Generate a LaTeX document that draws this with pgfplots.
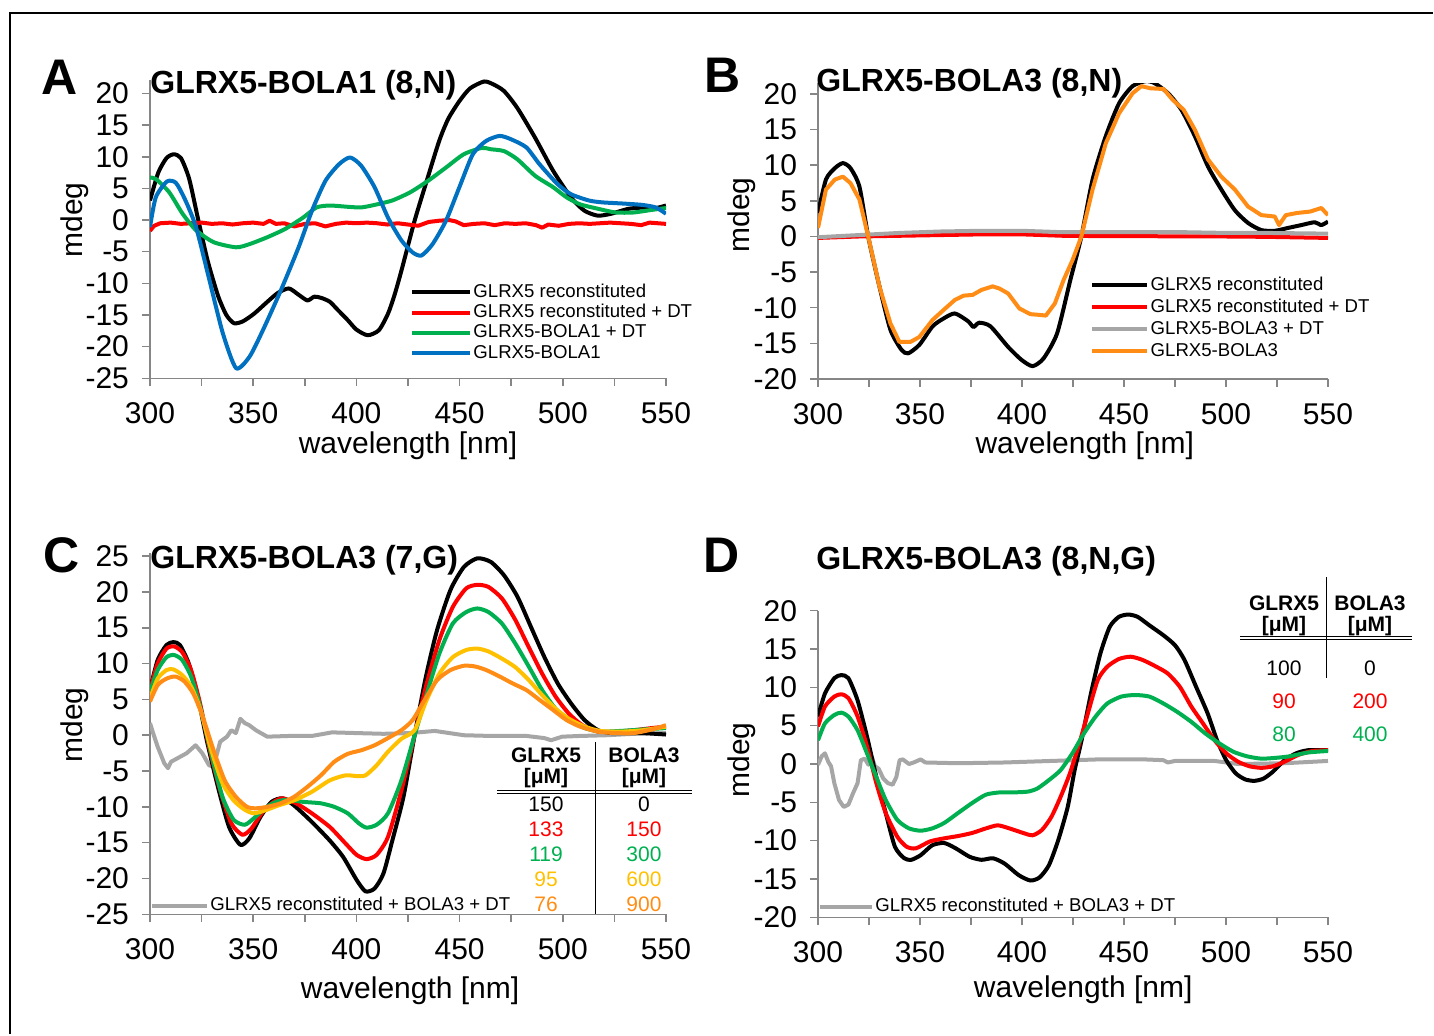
\documentclass[border=0pt]{standalone}
\usepackage{fontspec}
\setmainfont{Liberation Sans}
\usepackage{pgfplots}
\pgfplotsset{compat=1.18}
\definecolor{cred}{RGB}{255,0,0}
\definecolor{cgreen}{RGB}{0,176,80}
\definecolor{cblue}{RGB}{0,112,192}
\definecolor{corange}{RGB}{255,140,20}
\definecolor{cyellow}{RGB}{255,192,0}
\definecolor{cgray}{RGB}{166,166,166}
\definecolor{axgray}{RGB}{134,134,134}
\pgfplotsset{
  cd/.style={
    scale only axis, axis lines*=left, xmin=300, xmax=550,
    xtick={300,350,...,550}, minor xtick={325,375,...,525},
    tick align=outside, major tick length=4pt, minor tick length=4pt,
    tick style={axgray, line width=0.75pt},
    minor tick style={axgray, line width=0.75pt},
    axis line style={axgray, line width=0.75pt},
    tick label style={font=\fontsize{15}{18}\selectfont, text=black},
    /pgf/number format/assume math mode=true,
    xticklabel style={yshift=-4.5pt}, yticklabel style={xshift=-3pt},
    label style={font=\fontsize{15}{18}\selectfont},
    xlabel={wavelength [nm]}, ylabel={mdeg},
    every axis plot/.append style={line width=2pt, line join=round},
    legend cell align=left,
  },
  leg/.style={legend style={draw=none, fill=none, inner sep=0pt, row sep=0pt,
      font=\fontsize{9.3}{10}\selectfont,
      nodes={inner sep=0.5pt, text height=7pt, text depth=2.15pt}},
    legend image code/.code={\draw[##1, line width=2pt] (0pt,0pt) -- (#1,0pt);}},
}
\begin{document}
\begin{tikzpicture}
\path (0,0) rectangle (717pt,517pt);
\draw[line width=1pt] (5pt,0pt) -- (5pt,510.5pt) -- (716.5pt,510.5pt);

% ---------------- A
\begin{axis}[cd, at={(75pt,327.85pt)}, width=258pt, height=149.35pt,
  ymin=-25, ymax=22.2, ytick={-25,-20,...,20},
  xlabel style={at={(axis description cs:0.5,-0.2266)}, anchor=center},
  ylabel style={at={(axis description cs:-0.1453,0.53)}, anchor=center},
  leg=29pt, legend style={at={(axis description cs:0.504,0.3227)}, anchor=north west}]
\addplot[black, smooth, tension=0.4] coordinates {(300,3.1)(304,7.5)(308,9.8)(311.5,10.4)(315,9.8)(319,6.5)(323.4,0)(328,-6.5)(333,-12)(337,-15)(340.7,-16.3)(345,-16)(350.4,-14.8)(356.9,-12.9)(362,-11.5)(367.3,-10.8)(372,-11.8)(376.3,-12.7)(379.6,-12.1)(383,-12.3)(387.1,-12.9)(391,-14.2)(395.8,-15.8)(400,-17.3)(405.5,-18.2)(410.9,-17.4)(415.3,-14.8)(418.5,-11.8)(421.8,-8.0)(428.2,-0.1)(433.6,5.7)(440.1,12.5)(444.5,16)(449.9,18.8)(455,20.8)(461.8,21.9)(466,21.5)(471.5,20.4)(478,17.7)(486.6,13)(495.3,7.8)(503.9,3.6)(510.4,1.5)(516.9,0.7)(523.4,1.0)(532.1,1.8)(540.7,2.0)(545,1.9)(550,2.3)};
\addlegendentry{GLRX5 reconstituted}
\addplot[cred] coordinates {(300,-1.7)(302,-0.9)(305,-0.5)(310,-0.4)(315,-0.6)(320,-0.5)(325,-0.4)(330,-0.6)(335,-0.5)(340,-0.7)(345,-0.5)(350,-0.4)(355,-0.6)(358,-0.1)(361,-0.6)(365,-0.5)(370,-1.0)(375,-0.6)(380,-0.5)(385,-1.0)(390,-0.6)(395,-0.4)(400,-0.5)(405,-0.4)(410,-0.5)(415,-0.7)(420,-0.5)(425,-0.7)(430,-0.9)(435,-0.3)(440,-0.1)(445,0.0)(448,-0.2)(452,-0.8)(457,-0.6)(462,-0.5)(467,-0.8)(472,-0.5)(477,-0.6)(482,-0.5)(487,-0.8)(490,-1.2)(493,-0.7)(498,-0.9)(503,-0.6)(508,-0.5)(513,-0.6)(518,-0.5)(523,-0.4)(528,-0.5)(533,-0.6)(538,-0.8)(542,-0.4)(546,-0.5)(550,-0.6)};
\addlegendentry{GLRX5 reconstituted + DT}
\addplot[cgreen, smooth, tension=0.4] coordinates {(300,6.7)(302.8,6.5)(309.3,4.4)(315.8,1.0)(322.3,-1.6)(330.9,-3.5)(341.7,-4.3)(348.2,-3.8)(356.9,-2.7)(365.5,-1.4)(374.2,0.4)(380.7,2.0)(387.1,2.3)(395.8,2.1)(402.3,2.0)(408.8,2.4)(417.4,3.1)(426.1,4.4)(434.7,6.2)(443.4,8.3)(452,10.4)(460.7,11.4)(465,11.2)(471.5,10.9)(478,9.6)(486.6,7.0)(495.3,5.2)(501.8,3.6)(508.3,2.5)(516.9,1.8)(525.6,1.2)(534.2,1.2)(542.9,1.6)(550,1.9)};
\addlegendentry{GLRX5-BOLA1 + DT}
\addplot[cblue, smooth, tension=0.4] coordinates {(300,-1.1)(302.8,3.6)(308.2,6.1)(312.5,5.9)(316.9,3.3)(322.3,-1.1)(328.8,-9.5)(335.3,-17.9)(341.7,-23.4)(348.2,-21.6)(354.7,-17.4)(363.4,-11.1)(372,-4.3)(378.5,1.5)(385,6.2)(391.5,8.8)(396.9,9.9)(402.3,8.6)(408.8,5.2)(415.3,0.4)(421.8,-3.2)(427.2,-5.1)(431.5,-5.6)(436.9,-3.8)(443.4,-0.1)(449.9,5.2)(456.4,10.4)(462.8,12.5)(469.3,13.3)(474.7,12.8)(482.3,11.5)(488.8,8.8)(497.4,5.7)(503.9,4.1)(512.6,3.1)(519.1,2.8)(529.9,2.6)(538.5,2.4)(545,2.0)(550,1.0)};
\addlegendentry{GLRX5-BOLA1}
\end{axis}

% ---------------- B
\begin{axis}[cd, at={(409pt,327.5pt)}, width=255pt, height=147.85pt,
  ymin=-20, ymax=21.5, ytick={-20,-15,...,20},
  xlabel style={at={(axis description cs:0.523,-0.226)}, anchor=center},
  ylabel style={at={(axis description cs:-0.149,0.555)}, anchor=center},
  leg=27.5pt, legend style={at={(axis description cs:0.533,0.355)}, anchor=north west,
    nodes={inner sep=0.75pt, text height=7.3pt, text depth=2.2pt}}]
\addplot[black, smooth, tension=0.4] coordinates {(300,3.3)(303.9,8.0)(308.3,9.6)(312.2,10.3)(315.9,9.6)(320.3,7.0)(324.6,0)(330.1,-7.0)(335.5,-13.1)(340.9,-15.9)(344.2,-16.4)(349.7,-15.2)(356.2,-12.6)(361.6,-11.5)(367.1,-10.8)(373.6,-11.9)(376.2,-12.7)(379,-12.1)(384.5,-12.6)(393.2,-15.5)(399.7,-17.3)(405.2,-18.2)(410.6,-17.1)(417.2,-13.6)(423.7,-6.1)(429.1,0)(434.6,8.0)(441.1,14.1)(447.6,18.7)(454.2,21.1)(460.7,21.8)(465.1,21.5)(471.6,20.1)(478.1,17.8)(484.7,14.1)(491.2,9.8)(497.7,6.6)(504.3,3.7)(510.8,1.9)(517.3,0.9)(523.9,0.8)(530.4,1.2)(536.9,1.6)(543.5,2.0)(546.7,1.6)(550,2.1)};
\addlegendentry{GLRX5 reconstituted}
\addplot[cred] coordinates {(300,-0.2)(320,0)(340,0.1)(360,0.2)(380,0.3)(400,0.3)(420,0.1)(440,0.05)(460,0.05)(480,0)(500,0)(520,-0.05)(550,-0.2)};
\addlegendentry{GLRX5 reconstituted + DT}
\addplot[cgray] coordinates {(300,-0.1)(320,0.2)(340,0.5)(360,0.7)(380,0.8)(400,0.8)(420,0.6)(440,0.6)(460,0.6)(480,0.6)(500,0.5)(520,0.5)(550,0.4)};
\addlegendentry{GLRX5-BOLA3 + DT}
\addplot[corange] coordinates {(300,1.2)(303.9,6.6)(308.3,8.0)(312.2,8.4)(315.9,7.5)(320.3,5.2)(324.6,0)(330.1,-7.0)(335.5,-12.2)(339.9,-14.8)(345.3,-14.8)(349.7,-14.1)(356.2,-11.7)(361.6,-10.3)(367.1,-8.9)(371.4,-8.3)(375.8,-8.2)(380.1,-7.5)(385.6,-7.0)(388.9,-7.3)(393.2,-8.0)(398.7,-10.1)(404.1,-10.9)(408.4,-11.0)(411.7,-11.1)(416.1,-9.4)(420.4,-6.1)(424.8,-3.3)(429.1,0)(434.6,6.6)(441.1,13.1)(447.6,17.3)(454.2,20.1)(458.5,21.1)(462.9,20.8)(469.4,20.7)(473.8,19.2)(479.2,17.8)(484.7,15.0)(491.2,10.8)(497.7,8.4)(504.3,6.6)(510.8,4.2)(517.3,3.0)(523.9,2.8)(526,1.6)(529.3,3.0)(534.8,3.3)(541.3,3.5)(546.7,4.0)(550,3.0)};
\addlegendentry{GLRX5-BOLA3}
\end{axis}

% ---------------- C
\begin{axis}[cd, at={(75pt,59.85pt)}, width=258pt, height=180.5pt,
  ymin=-25, ymax=25.4, ytick={-25,-20,...,25},
  xlabel style={at={(axis description cs:0.504,-0.212)}, anchor=center},
  ylabel style={at={(axis description cs:-0.145,0.524)}, anchor=center},
  leg=27.5pt, legend style={at={(axis description cs:0,0.023)}, anchor=west}]
\addplot[cgray] coordinates {(300,1.7)(301.5,0.3)(303.7,-1.6)(306.9,-3.9)(308.7,-4.6)(310.2,-3.7)(313.4,-3.2)(317.8,-2.5)(322.1,-1.4)(325.3,-2.5)(328.6,-4.2)(330.8,-4.4)(334,-0.9)(337.3,-0.2)(339.4,0.7)(341.6,0.3)(343.8,2.3)(345.9,1.7)(348.1,1.4)(351.3,0.7)(356.8,-0.2)(367.6,-0.1)(378.4,-0.1)(388.2,0.4)(400.1,0.3)(413.1,0.2)(426.1,0.3)(438,0.6)(452.1,0)(465.1,-0.1)(482.4,-0.1)(491.1,-0.4)(494.3,-0.7)(499.7,-0.2)(508.4,-0.1)(521.4,0)(534.4,0.2)(550,0.3)};
\addlegendentry{GLRX5 reconstituted + BOLA3 + DT}
\addplot[black, smooth, tension=0.4, forget plot] coordinates {(300,6.3)(303.7,10.5)(308,12.6)(311.3,13.0)(314.5,12.6)(318.8,10.0)(323.2,5.4)(327.5,-0.7)(332.9,-7.2)(338.3,-12.8)(343.8,-15.3)(348.1,-14.4)(353.5,-11.4)(358.9,-9.3)(364.3,-8.8)(369.8,-9.8)(378.4,-12.1)(387.1,-14.7)(393.6,-17.0)(400.1,-20.2)(404.4,-21.8)(408.8,-21.4)(413.1,-19.3)(417.4,-14.7)(422.8,-8.6)(428.2,0)(433.7,8.2)(439.1,14.7)(445.6,20.3)(452.1,23.5)(458.6,24.7)(465.1,24.2)(471.6,22.3)(478.1,19.3)(484.6,15.1)(491.1,10.9)(497.6,7.2)(504.1,4.4)(510.6,2.1)(517.1,0.7)(523.6,0.3)(530.1,0.3)(538.7,0.3)(550,0.1)};
\addplot[cred, smooth, tension=0.4, forget plot] coordinates {(300,6.3)(303.7,10.0)(308,12.1)(311.7,12.4)(315.6,11.6)(319.9,9.1)(324.3,4.4)(328.6,-1.6)(334,-7.7)(339.4,-12.3)(344.8,-13.9)(349.2,-13.0)(354.6,-10.7)(360,-9.3)(364.3,-8.8)(370.8,-9.5)(378.4,-10.9)(387.1,-12.8)(394.7,-15.1)(400.1,-16.7)(404.9,-17.3)(409.8,-16.7)(415.3,-14.2)(421.8,-7.7)(428.2,0)(433.7,6.8)(440.2,13.3)(446.7,17.9)(453.2,20.5)(458.6,21.0)(464,20.7)(470.5,19.1)(477,16.1)(483.5,12.3)(490,8.6)(496.5,5.4)(503,3.0)(509.5,1.4)(517.1,0.5)(525.7,0.5)(534.4,0.7)(543.1,1.0)(550,1.2)};
\addplot[cgreen, smooth, tension=0.4, forget plot] coordinates {(300,6.0)(303.7,9.1)(308,10.9)(311.7,11.2)(315.6,10.5)(319.9,8.2)(324.3,4.0)(329.7,-2.6)(335.1,-8.6)(340.5,-11.8)(345.9,-12.5)(350.3,-11.6)(355.7,-10.2)(361.1,-9.3)(366.5,-9.0)(374.1,-9.3)(382.7,-9.5)(389.3,-10.0)(395.8,-10.9)(401.2,-12.3)(404.9,-12.9)(409.8,-12.5)(415.3,-10.9)(421.8,-6.3)(428.2,0)(433.7,5.4)(440.2,11.4)(446.7,15.6)(453.2,17.2)(458.6,17.7)(464,17.2)(470.5,15.6)(477,12.8)(483.5,9.6)(490,6.3)(496.5,3.7)(503,2.1)(510.6,1.0)(518.2,0.5)(527.9,0.6)(538.7,0.8)(550,1.0)};
\addplot[cyellow, smooth, tension=0.4, forget plot] coordinates {(300,5.1)(303.7,7.9)(308,9.1)(311.3,9.2)(315.6,8.4)(319.9,6.8)(324.3,3.7)(329.7,-2.1)(335.1,-6.7)(340.5,-9.1)(345.9,-10.4)(350.3,-10.9)(355.7,-10.5)(362.2,-9.8)(369.8,-9.1)(378.4,-7.9)(387.1,-6.3)(394.7,-5.6)(400.1,-5.7)(404.4,-5.6)(409.8,-4.2)(415.3,-2.3)(421.8,-0.5)(428.2,0.7)(433.7,4.7)(440.2,8.6)(446.7,10.9)(453.2,11.9)(458.6,12.1)(464,11.7)(470.5,10.7)(477,9.5)(483.5,7.7)(490,5.6)(496.5,3.7)(503,2.3)(510.6,1.2)(518.2,0.6)(527.9,0.5)(538.7,0.7)(550,1.2)};
\addplot[corange, smooth, tension=0.4, forget plot] coordinates {(300,4.7)(303.7,7.0)(308,7.9)(312.3,8.2)(316.7,7.5)(321,5.8)(325.3,2.8)(330.8,-2.1)(336.2,-6.3)(341.6,-8.6)(347,-10.0)(351.3,-10.2)(356.8,-10.0)(363.3,-9.5)(369.8,-8.6)(376.3,-7.2)(382.8,-5.6)(389.3,-3.7)(395.8,-2.6)(402.3,-2.1)(408.8,-1.4)(415.3,-0.4)(421.8,0.7)(427.2,2.1)(432.6,4.7)(439.1,7.7)(445.6,9.1)(452.1,9.7)(457.5,9.6)(462.9,9.1)(469.4,8.2)(475.9,7.2)(482.4,6.3)(488.9,4.9)(495.4,3.5)(501.9,2.1)(508.4,1.2)(517.1,0.5)(525.7,0.3)(534.4,0.3)(543.1,0.8)(550,1.4)};
\end{axis}

% ---------------- D
\begin{axis}[cd, at={(409pt,58.35pt)}, width=255pt, height=153.3pt,
  ymin=-20, ymax=20, ytick={-20,-15,...,20},
  xlabel style={at={(axis description cs:0.52,-0.237)}, anchor=center},
  ylabel style={at={(axis description cs:-0.149,0.513)}, anchor=center},
  leg=26pt, legend style={at={(axis description cs:0,0.034)}, anchor=west}]
\addplot[cgray] coordinates {(300,-0.1)(301.8,1.0)(303.4,1.4)(305,0.3)(306.4,-0.3)(308,-2.5)(310.3,-4.7)(312.6,-5.6)(314.9,-5.3)(317.2,-3.8)(319.4,-2.5)(321,0.5)(322.9,0.7)(324.7,-0.1)(326.3,1.0)(327.9,-0.3)(329.7,-0.6)(332,-1.9)(334.3,-2.5)(336.6,-2.7)(338.4,-1.7)(340,0.5)(341.6,0.6)(344.6,0)(346.9,0.2)(350.3,0.6)(352.6,0.2)(368.6,0.1)(391.5,0.2)(414.4,0.4)(437.2,0.6)(460.1,0.6)(469.3,0.5)(471.5,0.2)(475,0.4)(494.4,0.4)(505.9,0)(528.7,0.1)(550,0.4)};
\addlegendentry{GLRX5 reconstituted + BOLA3 + DT}
\addplot[black, smooth, tension=0.4, forget plot] coordinates {(300,6.2)(303.4,9.2)(308,11.2)(311.4,11.6)(314.9,11.2)(319.4,8.3)(324,3.6)(328.6,-1.7)(333.2,-6.4)(337.7,-10.8)(342.3,-12.3)(345.7,-12.5)(350.3,-11.9)(356,-10.6)(361.8,-10.3)(367.5,-11.0)(374.3,-12.1)(380.1,-12.5)(385.8,-12.3)(391.5,-13.0)(398.4,-14.5)(404.1,-15.2)(408.6,-14.8)(413.2,-13.2)(417.8,-9.9)(422.4,-5.6)(425.8,-0.8)(429.2,3.1)(433.8,9.2)(438.4,14.4)(443,17.9)(447.5,19.2)(452.1,19.5)(456.7,19.2)(462.4,18.1)(469.3,16.8)(475,15.5)(479.6,13.6)(485.3,10.1)(491,6.6)(495.6,3.1)(500.1,0.5)(504.7,-1.2)(509.3,-2.0)(513.9,-2.2)(518.4,-1.9)(523,-1.0)(528.7,0.5)(534.4,1.4)(540.2,1.8)(550,1.8)};
\addplot[cred, smooth, tension=0.4, forget plot] coordinates {(300,4.9)(303.4,7.5)(308,8.8)(311.4,9.1)(314.9,8.6)(319.4,6.2)(324,2.3)(328.6,-2.5)(333.2,-6.4)(338.9,-9.5)(343.5,-10.8)(348,-11.0)(354.9,-10.1)(361.8,-9.7)(368.6,-9.4)(375.5,-9.0)(382.3,-8.4)(388.1,-8.0)(393.8,-8.4)(400.6,-9.0)(405.2,-9.3)(409.8,-8.6)(414.4,-6.9)(418.9,-4.3)(423.5,-1.2)(428.1,2.7)(432.7,7.0)(437.2,11.0)(441.8,12.7)(447.5,13.7)(453.2,14.0)(458.9,13.6)(465.8,12.7)(471.5,11.8)(477.3,10.1)(483,7.5)(488.7,5.3)(494.4,3.1)(500.1,1.4)(505.9,0.3)(511.6,-0.3)(517.3,-0.5)(523,-0.3)(528.7,0.3)(535.6,1.2)(542.5,1.7)(550,1.8)};
\addplot[cgreen, smooth, tension=0.4, forget plot] coordinates {(300,3.1)(303.4,5.3)(308,6.4)(311.4,6.7)(314.9,6.2)(319.4,4.4)(324,1.4)(328.6,-1.7)(333.2,-4.7)(338.9,-7.3)(344.6,-8.4)(350.3,-8.7)(356,-8.4)(361.8,-7.7)(368.6,-6.4)(375.5,-5.1)(382.3,-4.0)(389.2,-3.7)(396.1,-3.7)(402.9,-3.6)(407.5,-3.2)(413.2,-2.1)(418.9,-0.8)(424.7,1.4)(430.4,4.0)(436.1,6.2)(441.8,7.9)(448.7,8.8)(455.5,9.0)(462.4,8.8)(469.3,7.9)(476.1,6.8)(483,5.5)(489.8,4.0)(496.7,2.7)(503.6,1.6)(510.4,1.0)(517.3,0.7)(524.2,0.8)(531,1.0)(540.2,1.5)(550,1.7)};
\end{axis}

% ---------------- titles and panel letters
\begin{scope}[every node/.style={inner sep=0pt}]
\node[anchor=center, font=\fontsize{25}{30}\selectfont\bfseries] at (30pt,478.5pt) {A};
\node[anchor=center, font=\fontsize{25}{30}\selectfont\bfseries] at (361.5pt,479.5pt) {B};
\node[anchor=center, font=\fontsize{25}{30}\selectfont\bfseries] at (31pt,239.5pt) {C};
\node[anchor=center, font=\fontsize{25}{30}\selectfont\bfseries] at (361pt,239.5pt) {D};
\node[anchor=west, font=\fontsize{16}{19}\selectfont\bfseries] at (75pt,474.5pt) {GLRX5-BOLA1 (8,N)};
\node[anchor=west, font=\fontsize{16}{19}\selectfont\bfseries] at (408pt,475.5pt) {GLRX5-BOLA3 (8,N)};
\node[anchor=west, font=\fontsize{16}{19}\selectfont\bfseries] at (75pt,237pt) {GLRX5-BOLA3 (7,G)};
\node[anchor=west, font=\fontsize{16}{19}\selectfont\bfseries] at (408pt,236.5pt) {GLRX5-BOLA3 (8,N,G)};
\end{scope}

% ---------------- table C
\begin{scope}[every node/.style={inner sep=0pt, anchor=center, font=\fontsize{10.5}{12}\selectfont}]
\node[font=\fontsize{10.5}{12}\selectfont\bfseries] at (273pt,139.5pt) {GLRX5};
\node[font=\fontsize{10.5}{12}\selectfont\bfseries] at (322pt,139.5pt) {BOLA3};
\node[font=\fontsize{10.5}{12}\selectfont\bfseries] at (273pt,128pt) {[μM]};
\node[font=\fontsize{10.5}{12}\selectfont\bfseries] at (322pt,128pt) {[μM]};
\draw[line width=0.5pt] (248.5pt,122pt) -- (346pt,122pt);
\draw[line width=0.5pt] (248.5pt,120.5pt) -- (346pt,120.5pt);
\draw[line width=0.5pt] (297.5pt,146pt) -- (297.5pt,60pt);
\node at (273pt,115pt) {150}; \node at (322pt,115pt) {0};
\node[text=cred] at (273pt,102.5pt) {133}; \node[text=cred] at (322pt,102.5pt) {150};
\node[text=cgreen] at (273pt,90pt) {119}; \node[text=cgreen] at (322pt,90pt) {300};
\node[text=cyellow] at (273pt,77.5pt) {95}; \node[text=cyellow] at (322pt,77.5pt) {600};
\node[text=corange] at (273pt,65pt) {76}; \node[text=corange] at (322pt,65pt) {900};
\end{scope}

% ---------------- table D
\begin{scope}[every node/.style={inner sep=0pt, anchor=center, font=\fontsize{10.5}{12}\selectfont}]
\node[font=\fontsize{10.5}{12}\selectfont\bfseries] at (642pt,215.5pt) {GLRX5};
\node[font=\fontsize{10.5}{12}\selectfont\bfseries] at (685pt,215.5pt) {BOLA3};
\node[font=\fontsize{10.5}{12}\selectfont\bfseries] at (642pt,204pt) {[μM]};
\node[font=\fontsize{10.5}{12}\selectfont\bfseries] at (685pt,204pt) {[μM]};
\draw[line width=0.5pt] (620pt,199pt) -- (706pt,199pt);
\draw[line width=0.5pt] (620pt,197.5pt) -- (706pt,197.5pt);
\draw[line width=0.5pt] (663pt,228.5pt) -- (663pt,178pt);
\node at (642pt,183pt) {100}; \node at (685pt,183pt) {0};
\node[text=cred] at (642pt,166.5pt) {90}; \node[text=cred] at (685pt,166.5pt) {200};
\node[text=cgreen] at (642pt,150pt) {80}; \node[text=cgreen] at (685pt,150pt) {400};
\end{scope}
\end{tikzpicture}
\end{document}
